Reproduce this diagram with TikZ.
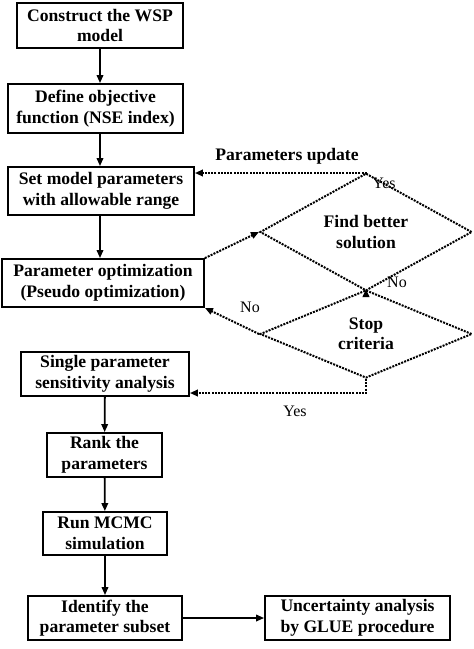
\documentclass[tikz,border=0pt]{standalone}
\usepackage{fontspec}
\setmainfont{Liberation Serif}
\usetikzlibrary{shapes.geometric}
\usetikzlibrary{arrows.meta}

\begin{document}
\begin{tikzpicture}[x=1pt,y=-1pt]
            % Define styles
            \tikzstyle{stepbox} = [draw,fill=white,shape=rectangle,line width=1.8pt,inner sep=2pt,align=center,font=\fontsize{17.6}{20.5}\selectfont\bfseries]
            \tikzstyle{decision} = [draw,shape=diamond,line width=2pt,dash pattern=on 2pt off 1.2pt,inner sep=0pt,minimum width=212,minimum height=80,align=center,font=\fontsize{17.6}{20.5}\selectfont\bfseries]
            \tikzstyle{flowarrow} = [line width=1.8pt,-{Triangle[length=8pt,width=6.5pt]}]
            \tikzstyle{dotarrow} = [line width=2pt,dash pattern=on 2pt off 1.2pt,-{Triangle[length=8pt,width=6.5pt]}]
            \tikzstyle{note} = [font=\fontsize{16}{19}\selectfont]
            \useasboundingbox (0,0) rectangle (474,649);
            % Steps of the main chain
                \node (model) at (100,25.5) [stepbox,minimum width=166,minimum height=45]{Construct the WSP\\model};
                \node (objective) at (95.5,108.5) [stepbox,minimum width=175,minimum height=49]{Define objective\\function (NSE index)};
                \node (setpar) at (101,191) [stepbox,minimum width=186,minimum height=48]{Set model parameters\\with allowable range};
                \node (optim) at (103,283) [stepbox,minimum width=202,minimum height=48]{Parameter optimization\\(Pseudo optimization)};
                \node (sens) at (105,374) [stepbox,minimum width=168,minimum height=44]{Single parameter\\sensitivity analysis};
                \node (rank) at (104.5,455) [stepbox,minimum width=115,minimum height=44]{Rank the\\parameters};
                \node (mcmc) at (105,533.5) [stepbox,minimum width=124,minimum height=43]{Run MCMC\\simulation};
                \node (subset) at (105,618) [stepbox,minimum width=154,minimum height=44]{Identify the\\parameter subset};
                \node (glue) at (357.5,618) [stepbox,minimum width=185,minimum height=44]{Uncertainty analysis\\by GLUE procedure};
            % Decisions
                \node (better) at (366,232) [decision]{Find better\\solution};
                \node (stop) at (366,334) [decision]{Stop\\criteria};
            % Labels of the loop
                \node (update) at (287,156) [note,font=\fontsize{17.6}{20.5}\selectfont\bfseries]{Parameters update};
                \node (yes1) at (384,183) [note]{Yes};
                \node (no1) at (397,282) [note]{No};
                \node (no2) at (250,307) [note]{No};
                \node (yes2) at (295,411) [note]{Yes};
            % Solid arrows
                \draw [flowarrow] (model) -- (model |- objective.north);
                \draw [flowarrow] (model |- objective.south) -- (model |- setpar.north);
                \draw [flowarrow] (model |- setpar.south) -- (model |- optim.north);
                \draw [flowarrow] (sens) -- (rank);
                \draw [flowarrow] (rank) -- (mcmc);
                \draw [flowarrow] (mcmc) -- (subset);
                \draw [flowarrow] (subset) -- (glue);
            % Dotted loop
                \draw [dotarrow] (better.north) |- ([yshift=18pt]setpar.east);
                \draw [dotarrow] (optim.north east) -- (better.west);
                \draw [dotarrow] (better.south) -- (stop.north);
                \draw [dotarrow] (stop.west) -- (optim.south east);
                \draw [dotarrow] (stop.south) |- ([yshift=-19pt]sens.east);
\end{tikzpicture}
\end{document}
